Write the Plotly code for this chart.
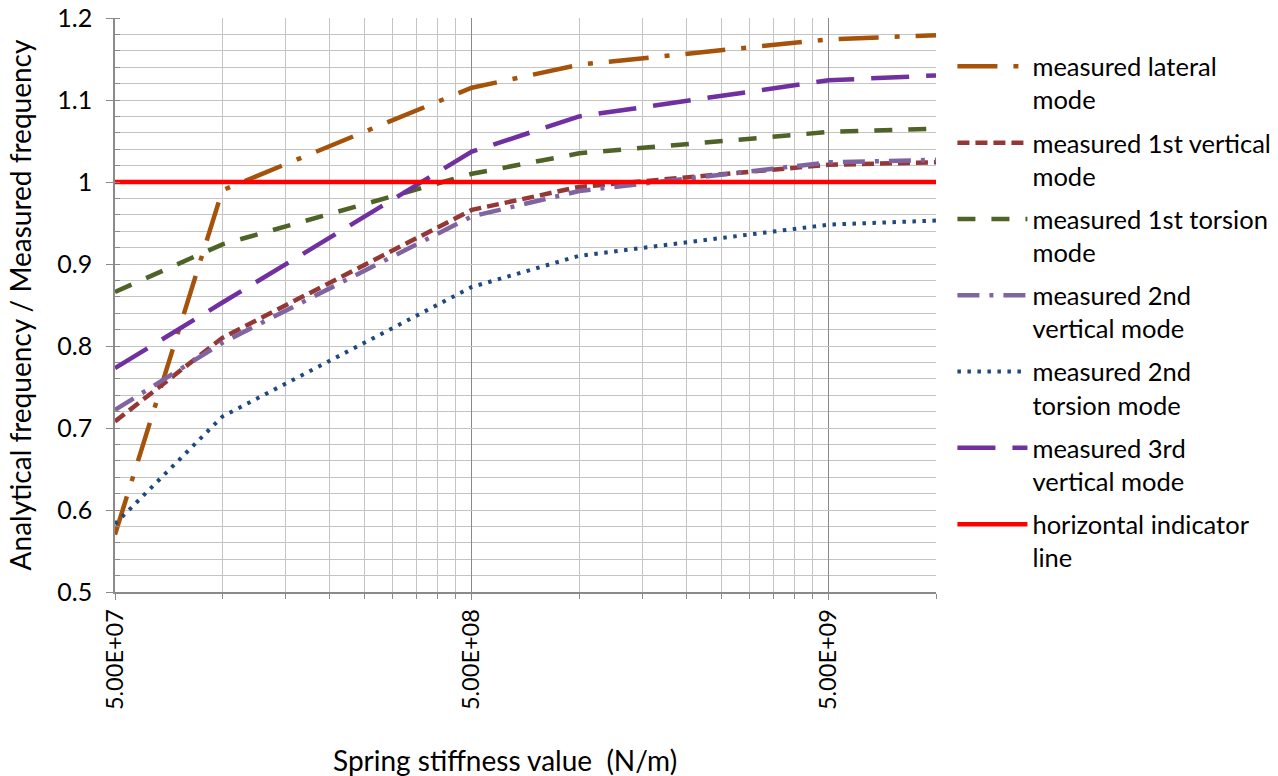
import plotly.graph_objects as go
import numpy as np

# ---- data ----
stiffness = [5e7, 1e8, 5e8, 1e9, 5e9, 1e10]
lateral = [0.57, 0.99, 1.115, 1.143, 1.174, 1.179]
vert1 = [0.708, 0.810, 0.966, 0.994, 1.021, 1.024]
tors1 = [0.866, 0.924, 1.010, 1.035, 1.061, 1.065]
vert2 = [0.722, 0.804, 0.958, 0.989, 1.024, 1.027]
tors2 = [0.583, 0.714, 0.872, 0.910, 0.948, 0.953]
vert3 = [0.773, 0.853, 1.037, 1.080, 1.124, 1.130]
indicator = [1.0, 1.0, 1.0, 1.0, 1.0, 1.0]

x_tickvals = [5e7, 5e8, 5e9]
x_ticktext = ["5.00E+07", "5.00E+08", "5.00E+09"]
x_minor = [m * d for d in (5e7, 5e8, 5e9) for m in range(2, 10)]

FONT = "Lato"
FS_XTICK = 23.5
FS_YTICK = 25
FS_LEG = 25.5
FS_TITLE = 28

series = [
    ("measured lateral<br>mode", lateral, "#A5520A", "40px,16px,5px,16px", 4.5),
    ("measured 1st vertical<br>mode", vert1, "#953735", "12px,6px", 4.5),
    ("measured 1st torsion<br>mode", tors1, "#4F6228", "18px,16px", 4.5),
    ("measured 2nd<br>vertical mode", vert2, "#8064A2", "22px,10px,4px,10px", 4.5),
    ("measured 2nd<br>torsion mode", tors2, "#1F497D", "3.5px,6.5px", 4),
    ("measured 3rd<br>vertical mode", vert3, "#7030A0", "38px,17px", 4.5),
    ("horizontal indicator<br>line", indicator, "#FF0000", "solid", 4.5),
]

fig = go.Figure()
for i, (name, vals, col, dash, w) in enumerate(series):
    fig.add_trace(go.Scatter(
        x=stiffness, y=vals, mode="lines", name=name,
        legendgroup=f"g{i}",
        line=dict(color=col, width=w, dash=dash),
        hoverinfo="skip",
    ))

fig.update_layout(
    width=1278, height=776,
    margin=dict(l=115, r=342, t=18, b=184, autoexpand=False),
    paper_bgcolor="white", plot_bgcolor="white",
    font=dict(family=FONT, size=FS_YTICK, color="#000000"),
    showlegend=True,
    legend=dict(
        x=1.02, y=0.956, xanchor="left", yanchor="top",
        font=dict(family=FONT, size=FS_LEG, color="#000000"),
        valign="top", traceorder="grouped", tracegroupgap=7,
        itemwidth=70, bgcolor="rgba(0,0,0,0)",
    ),
    xaxis=dict(
        type="log",
        range=[np.log10(5e7), np.log10(1e10)],
        tickmode="array", tickvals=x_tickvals, ticktext=x_ticktext,
        tickangle=-90,
        tickfont=dict(family=FONT, size=FS_XTICK),
        showgrid=True, gridcolor="#8A8A8A", gridwidth=1.3,
        showline=True, linecolor="#8A8A8A", linewidth=1.5,
        ticks="outside", ticklen=6, tickcolor="#8A8A8A",
        minor=dict(tickmode="array", tickvals=x_minor, showgrid=True,
                   gridcolor="#C4C4C4", gridwidth=1.3,
                   ticks="outside", ticklen=5, tickcolor="#8A8A8A"),
        zeroline=False,
    ),
    yaxis=dict(
        range=[0.5, 1.2], dtick=0.1, tick0=0.5,
        tickfont=dict(family=FONT, size=FS_YTICK),
        ticklabelstandoff=9,
        showgrid=True, gridcolor="#C4C4C4", gridwidth=1.3,
        showline=True, linecolor="#8A8A8A", linewidth=1.5,
        ticks="outside", ticklen=7, tickcolor="#8A8A8A",
        minor=dict(dtick=0.02, showgrid=True, gridcolor="#C4C4C4",
                   gridwidth=1.3, ticks="inside", ticklen=5,
                   tickcolor="#8A8A8A"),
        zeroline=False,
        title=dict(text="Analytical frequency / Measured frequency",
                   font=dict(family=FONT, size=FS_TITLE), standoff=18),
    ),
    annotations=[dict(
        text="Spring stiffness value&nbsp;&nbsp;(N/m)",
        xref="paper", yref="paper", x=0.475, y=-0.2927,
        xanchor="center", yanchor="middle", showarrow=False,
        font=dict(family=FONT, size=FS_TITLE, color="#000000"),
    )],
)

fig.write_html("out.html")
